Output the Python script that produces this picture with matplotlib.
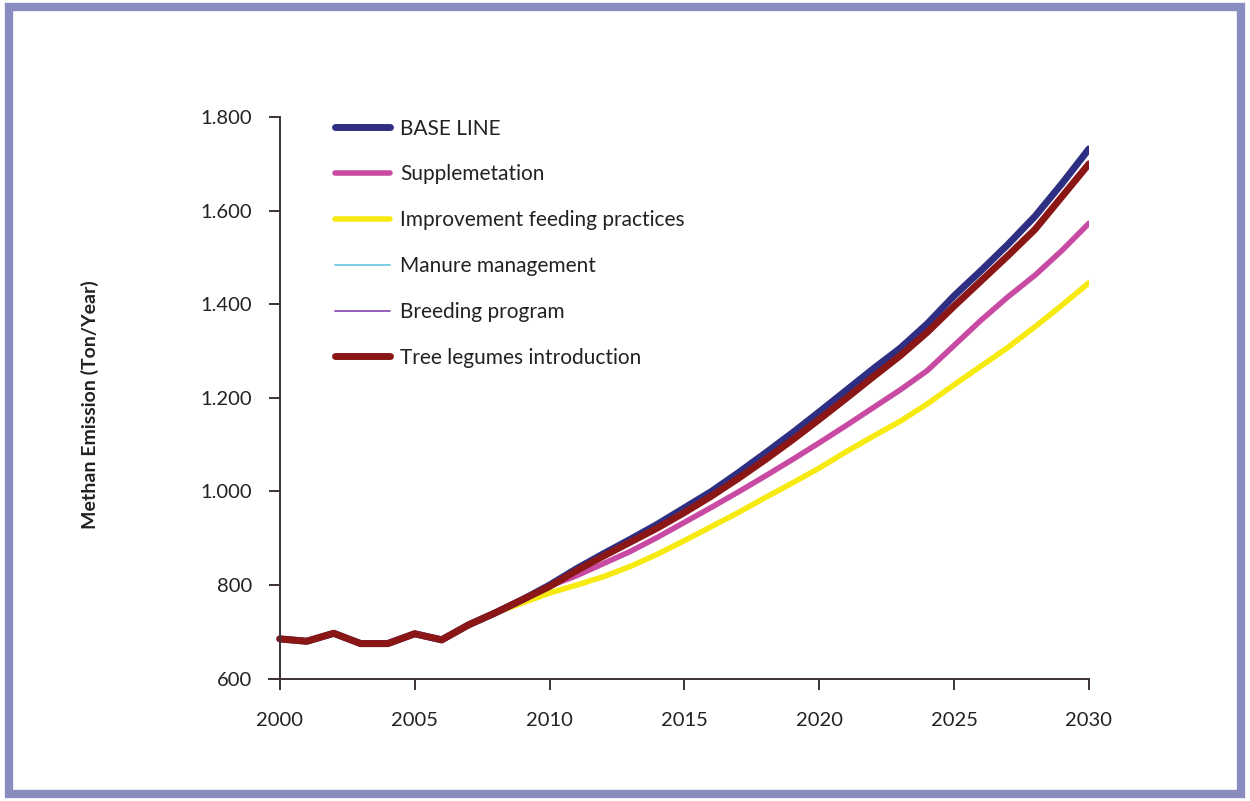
import matplotlib
matplotlib.use("Agg")
import matplotlib.pyplot as plt
from matplotlib.patches import Rectangle

FONT = ["Lato", "DejaVu Sans"]
plt.rcParams["font.family"] = FONT

years = list(range(2000, 2031))

# shared history 2000-2009, then scenario values
history = [685, 680, 697, 675, 675, 696, 683, 715, 741, 769]

baseline = history + [800, 835, 867, 898, 930, 965, 1000, 1040, 1082, 1125,
                      1170, 1216, 1262, 1306, 1358, 1418, 1472, 1528, 1588, 1658, 1732]
supplementation = history + [798, 820, 846, 872, 902, 934, 966, 999, 1033, 1068,
                             1104, 1141, 1179, 1217, 1258, 1312, 1366, 1416, 1462, 1515, 1573]
feeding = history[:-1] + [762] + [783, 800, 818, 840, 866, 895, 925, 955, 987, 1018,
                                  1050, 1085, 1118, 1150, 1187, 1228, 1268, 1308, 1352, 1398, 1446]
manure = list(baseline)
breeding = list(baseline)
tree_legumes = history + [797, 831, 862, 892, 922, 955, 990, 1028, 1068, 1110,
                          1154, 1199, 1245, 1290, 1340, 1396, 1450, 1504, 1560, 1630, 1700]

labels = ["BASE LINE", "Supplemetation", "Improvement feeding practices",
          "Manure management", "Breeding program", "Tree legumes introduction"]
colors = ["#2e2f82", "#c84aa2", "#f7ea10", "#6ccbe3", "#8f4fb3", "#8a1616"]
widths = [5.0, 4.0, 4.0, 1.3, 1.3, 5.0]
series = [baseline, supplementation, feeding, manure, breeding, tree_legumes]

fig = plt.figure(figsize=(12.5, 8.01), dpi=100)

# purple frame around the figure
fig.patches.append(Rectangle((9 / 1250, 7 / 801), 1232 / 1250, 787 / 801,
                             transform=fig.transFigure, fill=False,
                             edgecolor="#8a8bbf", linewidth=6))

ax = fig.add_axes([269 / 1250, 1 - 689 / 801, (1089 - 269) / 1250, (689 - 117) / 801])

# thin scenario lines sit under the thick baseline, as in the original
draw_order = [2, 1, 3, 4, 0, 5]
handles = {}
for i in draw_order:
    h, = ax.plot(years, series[i], color=colors[i], linewidth=widths[i],
                 solid_capstyle="round", solid_joinstyle="round", label=labels[i])
    handles[i] = h

ax.set_xlim(1999.6, 2030)
ax.set_ylim(578, 1800)
ax.spines["left"].set_position(("data", 2000))
ax.spines["bottom"].set_position(("data", 600))
ax.spines["top"].set_visible(False)
ax.spines["right"].set_visible(False)
for s in ("left", "bottom"):
    ax.spines[s].set_color("#3b3335")
    ax.spines[s].set_linewidth(1.4)

ax.set_xticks(range(2000, 2031, 5))
ax.set_yticks(range(600, 1801, 200))
ax.set_yticklabels(["600", "800", "1.000", "1.200", "1.400", "1.600", "1.800"])
ax.tick_params(axis="both", direction="out", length=8, width=1.4, color="#3b3335",
               labelsize=14.5, labelcolor="#222222")
ax.tick_params(axis="x", pad=16)
ax.tick_params(axis="y", pad=12)
for lab in ax.get_xticklabels() + ax.get_yticklabels():
    lab.set_family(FONT)

fig.text(90 / 1250, 1 - 405 / 801, "Methan Emission (Ton/Year)", rotation=90,
         ha="center", va="center", fontsize=14, fontweight="bold", color="#222222",
         family=FONT)

leg = ax.legend([handles[i] for i in range(6)], labels, loc="upper left",
                bbox_to_anchor=(47 / 820, 1.03), frameon=False, fontsize=15,
                handlelength=2.65, handletextpad=0.5, labelspacing=1.24)
for t in leg.get_texts():
    t.set_color("#222222")
    t.set_family(FONT)

fig.savefig("out.png", dpi=100)
